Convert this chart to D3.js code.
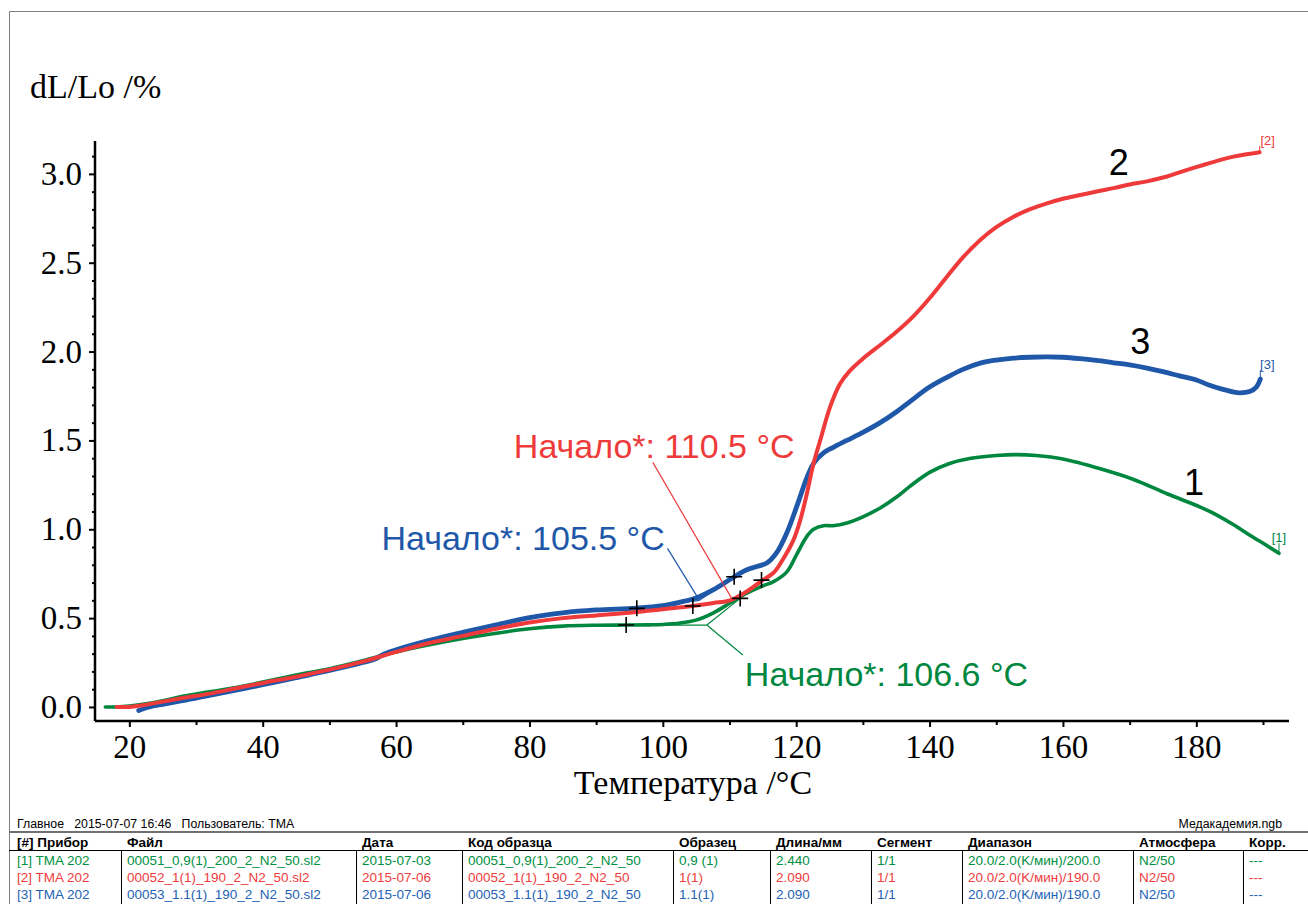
<!DOCTYPE html>
<html>
<head>
<meta charset="utf-8">
<script src="https://cdn.jsdelivr.net/npm/d3@7"></script>
<style>
  body { margin: 0; background: #fff; }
  svg { display: block; font-family: "Liberation Sans", Arial, sans-serif; }
</style>
</head>
<body>
<svg width="1308" height="904"></svg>
<script>
// curve 1 (green), 0,9(1)
const tempGreen = [16.4, 18, 20, 22, 25, 28, 32, 36, 40, 45, 50, 55, 60, 65, 70, 75, 80, 85, 90, 94.5, 98, 100, 102.6, 105.1, 107.6, 110.1, 112.6, 114.9, 116.6, 118.6, 120.1, 121.6, 122.6, 124.1, 125.5, 127.6, 130, 132.6, 135, 137, 140, 143, 146, 150, 153, 156, 160, 165.6, 170.6, 175.6, 180.6, 183.1, 185.6, 188.1, 190.5, 192.4];
const dlGreen = [0.0, 0.0, 0.005, 0.015, 0.035, 0.06, 0.085, 0.11, 0.14, 0.18, 0.215, 0.26, 0.31, 0.35, 0.385, 0.415, 0.44, 0.455, 0.46, 0.461, 0.462, 0.464, 0.472, 0.49, 0.53, 0.585, 0.64, 0.68, 0.705, 0.76, 0.86, 0.96, 1.0, 1.02, 1.02, 1.035, 1.07, 1.12, 1.18, 1.24, 1.32, 1.37, 1.398, 1.415, 1.42, 1.415, 1.395, 1.34, 1.28, 1.20, 1.125, 1.08, 1.025, 0.965, 0.91, 0.865];

// curve 2 (red), 1(1)
const tempRed = [18.1, 20, 22, 25, 28, 32, 36, 40, 45, 50, 55, 60, 65, 70, 75, 80, 85, 90, 95, 100, 104.4, 107.6, 110.1, 112.6, 114.9, 116.6, 118, 119.6, 120.6, 121.6, 122.6, 123.6, 125.1, 126.6, 128, 130, 132.6, 135, 137.6, 140, 142.6, 145, 147.6, 150, 152.6, 155, 157.6, 160, 162.6, 165.6, 167.6, 170, 172.6, 175.6, 177.6, 180.6, 183, 185.6, 187.5, 189.5];
const dlRed = [0.0, 0.0, 0.01, 0.03, 0.05, 0.075, 0.105, 0.135, 0.17, 0.21, 0.255, 0.31, 0.36, 0.40, 0.44, 0.475, 0.50, 0.515, 0.53, 0.55, 0.568, 0.585, 0.60, 0.65, 0.712, 0.755, 0.83, 0.94, 1.05, 1.20, 1.37, 1.50, 1.69, 1.82, 1.89, 1.96, 2.037, 2.11, 2.20, 2.30, 2.421, 2.53, 2.628, 2.70, 2.759, 2.80, 2.834, 2.86, 2.881, 2.905, 2.92, 2.94, 2.958, 2.985, 3.01, 3.045, 3.072, 3.097, 3.11, 3.122];

// curve 3 (blue), 1.1(1)
const tempBlue = [21.4, 23, 25, 28, 32, 36, 40, 45, 50, 55, 57, 58, 60, 65, 70, 75, 80, 85, 90, 96, 100, 102.6, 105.1, 107.6, 110.6, 112.6, 114.1, 115.6, 117.1, 118.6, 120.1, 121.6, 122.6, 124.1, 125.5, 127.6, 130, 132.6, 135, 137.1, 140, 142.6, 145, 147.6, 150, 152.6, 155, 157.6, 160, 162.6, 165, 167.6, 170, 172.6, 175, 177.6, 180, 182, 184, 185.5, 186.5, 188, 189, 189.6];
const dlBlue = [-0.02, 0.0, 0.015, 0.035, 0.065, 0.095, 0.125, 0.165, 0.205, 0.25, 0.272, 0.295, 0.322, 0.375, 0.42, 0.462, 0.503, 0.53, 0.546, 0.556, 0.57, 0.59, 0.615, 0.66, 0.73, 0.772, 0.79, 0.81, 0.87, 0.98, 1.13, 1.29, 1.37, 1.43, 1.46, 1.50, 1.545, 1.60, 1.66, 1.72, 1.80, 1.855, 1.90, 1.935, 1.952, 1.963, 1.968, 1.97, 1.968, 1.96, 1.95, 1.937, 1.925, 1.907, 1.887, 1.862, 1.84, 1.81, 1.787, 1.773, 1.768, 1.775, 1.80, 1.845];

// onset evaluation (Начало*), order: curve 1, 2, 3
const onsetTemp = [106.6, 110.5, 105.5];
const onsetVal = [0.461, 0.60, 0.60];
const baseTangentTemp = [94.5, 104.5, 96.1];
const baseTangentVal = [0.461, 0.568, 0.555];
const steepTangentTemp = [111.6, 114.8, 110.7];
const steepTangentVal = [0.611, 0.714, 0.733];

// axes
const xMajorTicks = [20, 40, 60, 80, 100, 120, 140, 160, 180];
const xMinorTicks = [30, 50, 70, 90, 110, 130, 150, 170, 190];
const yMajorTicks = [0, 0.5, 1.0, 1.5, 2.0, 2.5, 3.0];

// table
const tableHeaders = ["[#] Прибор", "Файл", "Дата", "Код образца", "Образец", "Длина/мм", "Сегмент", "Диапазон", "Атмосфера", "Корр."];
const tableRow1 = ["[1] TMA 202", "00051_0,9(1)_200_2_N2_50.sl2", "2015-07-03", "00051_0,9(1)_200_2_N2_50", "0,9 (1)", "2.440", "1/1", "20.0/2.0(K/мин)/200.0", "N2/50", "---"];
const tableRow2 = ["[2] TMA 202", "00052_1(1)_190_2_N2_50.sl2", "2015-07-06", "00052_1(1)_190_2_N2_50", "1(1)", "2.090", "1/1", "20.0/2.0(K/мин)/190.0", "N2/50", "---"];
const tableRow3 = ["[3] TMA 202", "00053_1.1(1)_190_2_N2_50.sl2", "2015-07-06", "00053_1.1(1)_190_2_N2_50", "1.1(1)", "2.090", "1/1", "20.0/2.0(K/мин)/190.0", "N2/50", "---"];

const colors = ["#00873f", "#ee3a3a", "#1f58a8"];
const textColors = ["#00903f", "#f03c3c", "#2462b4"];

const series = [
  { num: "1", tag: "[1]", T: tempGreen, v: dlGreen, color: colors[0], width: 3.6, lab: [-85, -71], tagOff: [0, -16] },
  { num: "2", tag: "[2]", T: tempRed, v: dlRed, color: colors[1], width: 4, lab: [-141, 10], tagOff: [8, -12] },
  { num: "3", tag: "[3]", T: tempBlue, v: dlBlue, color: colors[2], width: 4.8, lab: [-120, -38], tagOff: [7, -15] }
];

const svg = d3.select("svg");
const serif = '"Liberation Serif", "Times New Roman", serif';

const x = d3.scaleLinear().domain([14.85, 193.9]).range([95, 1289]);
const y = d3.scaleLinear().domain([-0.079, 3.185]).range([721, 141]);

// outer frame
svg.append("path")
  .attr("d", "M9.5,904 V11.5 H1308")
  .attr("fill", "none")
  .attr("stroke", "#808080")
  .attr("stroke-width", 1);

// x axis
const xAxis = svg.append("g")
  .attr("transform", "translate(0,721)")
  .call(d3.axisBottom(x).tickValues(xMajorTicks).tickSize(6).tickPadding(8).tickFormat(d3.format("d")));
xAxis.select(".domain").attr("d", "M95,0 H1289").attr("stroke-width", 2.5);
xAxis.selectAll(".tick line").attr("stroke-width", 2);
xAxis.selectAll("text").attr("font-family", serif).attr("font-size", 33).attr("fill", "#000");
svg.append("g")
  .attr("transform", "translate(0,721)")
  .call(d3.axisBottom(x).tickValues(xMinorTicks).tickSize(4).tickFormat(""))
  .call(g => g.select(".domain").remove())
  .selectAll("line").attr("stroke-width", 2);

// y axis
const yAxis = svg.append("g")
  .attr("transform", "translate(95,0)")
  .call(d3.axisLeft(y).tickValues(yMajorTicks).tickSize(6).tickPadding(7).tickFormat(d3.format(".1f")));
yAxis.select(".domain").attr("d", "M0,141 V721").attr("stroke-width", 2.5);
yAxis.selectAll(".tick line").attr("stroke-width", 2);
yAxis.selectAll("text").attr("font-family", serif).attr("font-size", 33).attr("fill", "#000");
svg.append("g")
  .attr("transform", "translate(95,0)")
  .call(d3.axisLeft(y).tickValues(d3.range(0, 32).map(i => i / 10).filter(v => Math.round(v * 10) % 5 !== 0)).tickSize(3).tickFormat(""))
  .call(g => g.select(".domain").remove())
  .selectAll("line").attr("stroke-width", 2);

// axis titles
svg.append("text")
  .attr("x", 30).attr("y", 98)
  .attr("font-family", serif).attr("font-size", 34)
  .text("dL/Lo /%");
svg.append("text")
  .attr("x", 693).attr("y", 794)
  .attr("text-anchor", "middle")
  .attr("font-family", serif).attr("font-size", 34)
  .text("Температура /°C");

// curves
const line = d3.line()
  .x(d => x(d[0]))
  .y(d => y(d[1]))
  .curve(d3.curveCatmullRom.alpha(0.5));

const drawOrder = [0, 2, 1];
drawOrder.forEach(i => {
  const s = series[i];
  svg.append("path")
    .datum(d3.zip(s.T, s.v))
    .attr("fill", "none")
    .attr("stroke", s.color)
    .attr("stroke-width", s.width)
    .attr("stroke-linejoin", "round")
    .attr("stroke-linecap", "round")
    .attr("d", line);
});

// curve numbers and end tags
series.forEach(s => {
  const ex = x(s.T[s.T.length - 1]);
  const ey = y(s.v[s.v.length - 1]);
  svg.append("text")
    .attr("x", ex + s.lab[0]).attr("y", ey + s.lab[1])
    .attr("dy", "0.36em")
    .attr("text-anchor", "middle")
    .attr("font-size", 36)
    .attr("fill", "#000")
    .text(s.num);
  svg.append("line")
    .attr("x1", ex).attr("y1", ey)
    .attr("x2", ex).attr("y2", ey + s.tagOff[1] + 6)
    .attr("stroke", s.color).attr("stroke-width", 1);
  svg.append("text")
    .attr("x", ex + s.tagOff[0]).attr("y", ey + s.tagOff[1])
    .attr("dy", "0.35em")
    .attr("text-anchor", "middle")
    .attr("font-size", 13)
    .attr("fill", s.color)
    .text(s.tag);
});

// onset tangents, leaders and labels
const onsetLayout = [
  { text: [38, 61], leader: [36, 30] },
  { text: [-219, -142], leader: [-80, -138] },
  { text: [-318, -50], leader: [-32, -52] }
];
onsetTemp.forEach((t, i) => {
  const ox = x(t), oy = y(onsetVal[i]);
  const c = colors[i];
  const g = svg.append("g").attr("stroke", c).attr("stroke-width", 1.2).attr("fill", "none");
  g.append("line")
    .attr("x1", x(baseTangentTemp[i])).attr("y1", y(baseTangentVal[i]))
    .attr("x2", ox).attr("y2", oy);
  g.append("line")
    .attr("x1", ox).attr("y1", oy)
    .attr("x2", x(steepTangentTemp[i])).attr("y2", y(steepTangentVal[i]));
  g.append("line")
    .attr("x1", ox).attr("y1", oy)
    .attr("x2", ox + onsetLayout[i].leader[0]).attr("y2", oy + onsetLayout[i].leader[1]);
  svg.append("text")
    .attr("x", ox + onsetLayout[i].text[0]).attr("y", oy + onsetLayout[i].text[1])
    .attr("font-size", 34)
    .attr("fill", c)
    .text(`Начало*: ${t.toFixed(1)} °C`);
});

// tangent point markers
const crossPts = d3.zip(baseTangentTemp, baseTangentVal).concat(d3.zip(steepTangentTemp, steepTangentVal));
svg.append("g")
  .selectAll("path")
  .data(crossPts)
  .enter()
  .append("path")
  .attr("d", d => `M${x(d[0]) - 8},${y(d[1])} h16 M${x(d[0])},${y(d[1]) - 8} v16`)
  .attr("stroke", "#000")
  .attr("stroke-width", 1.6);

// footer / table
svg.append("text")
  .attr("x", 17).attr("y", 828)
  .attr("font-size", 12.3)
  .attr("xml:space", "preserve")
  .text("Главное   2015-07-07 16:46   Пользователь: TMA");
svg.append("text")
  .attr("x", 1282).attr("y", 828)
  .attr("text-anchor", "end")
  .attr("font-size", 12.3)
  .text("Медакадемия.ngb");

svg.append("line")
  .attr("x1", 9).attr("x2", 1308).attr("y1", 832).attr("y2", 832)
  .attr("stroke", "#707070").attr("stroke-width", 2);
svg.append("line")
  .attr("x1", 9).attr("x2", 1308).attr("y1", 850.5).attr("y2", 850.5)
  .attr("stroke", "#000").attr("stroke-width", 1);

const colX = [17, 127, 362, 468, 679, 776, 877, 968, 1139, 1249];
const sepX = [121, 356, 462, 673, 770, 871, 962, 1133, 1243];

svg.append("g")
  .selectAll("line")
  .data(sepX)
  .enter()
  .append("line")
  .attr("x1", d => d + 0.5).attr("x2", d => d + 0.5)
  .attr("y1", 851).attr("y2", 904)
  .attr("stroke", "#000").attr("stroke-width", 1);

svg.append("g")
  .selectAll("text")
  .data(tableHeaders)
  .enter()
  .append("text")
  .attr("x", (d, i) => colX[i]).attr("y", 847)
  .attr("font-size", 13.5)
  .attr("font-weight", "bold")
  .text(d => d);

[tableRow1, tableRow2, tableRow3].forEach((row, r) => {
  svg.append("g")
    .selectAll("text")
    .data(row)
    .enter()
    .append("text")
    .attr("x", (d, i) => colX[i]).attr("y", 865 + r * 17)
    .attr("font-size", 13.5)
    .attr("fill", textColors[r])
    .text(d => d);
});
</script>
</body>
</html>
